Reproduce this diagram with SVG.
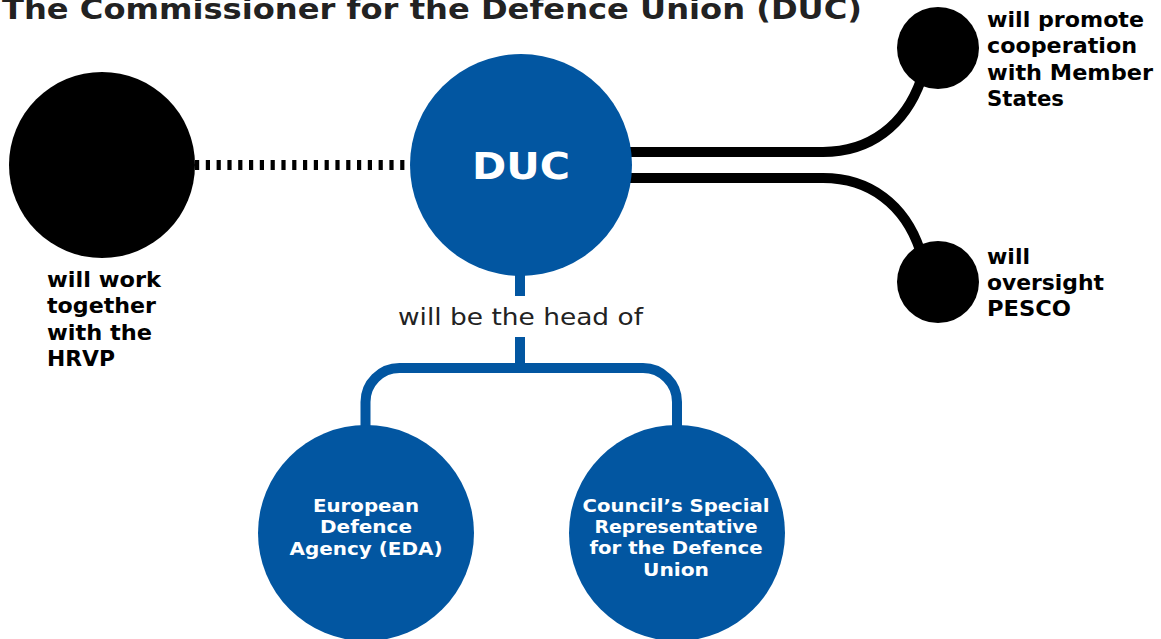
<svg xmlns="http://www.w3.org/2000/svg" width="1161" height="639" viewBox="0 0 1161 639">
  <style>
    .title { font-family: "DejaVu Sans", "Liberation Sans", sans-serif; font-weight: 700; font-size: 28px; fill: #222222; }
    .label { font-family: "DejaVu Sans", "Liberation Sans", sans-serif; font-weight: 700; font-size: 21px; fill: #000000; }
    .plain { font-family: "DejaVu Sans", "Liberation Sans", sans-serif; font-weight: 400; font-size: 23px; fill: #222222; }
    .inner { font-family: "DejaVu Sans", "Liberation Sans", sans-serif; font-weight: 700; font-size: 18px; fill: #ffffff; text-anchor: middle; }
    .big { font-family: "DejaVu Sans", "Liberation Sans", sans-serif; font-weight: 700; font-size: 38px; fill: #ffffff; text-anchor: middle; }
    .blue { fill: #0256a1; }
    .dot { fill: #000000; }
    .wire { fill: none; stroke: #000000; stroke-width: 10; }
    .tree { fill: none; stroke: #0256a1; stroke-width: 10; }
  </style>

  <text class="title" x="2" y="19" textLength="860" lengthAdjust="spacingAndGlyphs">The Commissioner for the Defence Union (DUC)</text>

  <!-- connectors -->
  <g id="connectors">
    <path class="wire" d="M195 165 H411" stroke-dasharray="4.2 6.6"/>
    <path class="wire" d="M620 152 H823 C870 152 905 125 921 80"/>
    <path class="wire" d="M620 178 H823 C870 178 905 205 920 250"/>
    <path class="tree" d="M520 268 V296"/>
    <path class="tree" d="M520 337 V368"/>
    <path class="tree" d="M365.5 432 V402 A34 34 0 0 1 399.5 368 H643 A34 34 0 0 1 677 402 V432"/>
  </g>

  <!-- nodes -->
  <g id="hrvp">
    <circle class="dot" cx="102" cy="165" r="93"/>
    <text class="label" x="47" y="287" textLength="114" lengthAdjust="spacingAndGlyphs">will work</text>
    <text class="label" x="47" y="313" textLength="109" lengthAdjust="spacingAndGlyphs">together</text>
    <text class="label" x="47" y="340" textLength="105" lengthAdjust="spacingAndGlyphs">with the</text>
    <text class="label" x="47" y="366" textLength="68" lengthAdjust="spacingAndGlyphs">HRVP</text>
  </g>

  <g id="duc">
    <circle class="blue" cx="521" cy="165" r="111"/>
    <text class="big" x="521" y="179" textLength="98" lengthAdjust="spacingAndGlyphs">DUC</text>
  </g>

  <g id="head-of">
    <text class="plain" x="398" y="325" textLength="245" lengthAdjust="spacingAndGlyphs">will be the head of</text>
  </g>

  <g id="member-states">
    <circle class="dot" cx="938" cy="48" r="41"/>
    <text class="label" x="987" y="27" textLength="157" lengthAdjust="spacingAndGlyphs">will promote</text>
    <text class="label" x="987" y="53" textLength="150" lengthAdjust="spacingAndGlyphs">cooperation</text>
    <text class="label" x="987" y="80" textLength="166" lengthAdjust="spacingAndGlyphs">with Member</text>
    <text class="label" x="987" y="106" textLength="77" lengthAdjust="spacingAndGlyphs">States</text>
  </g>

  <g id="pesco">
    <circle class="dot" cx="938" cy="282" r="41"/>
    <text class="label" x="987" y="264" textLength="43" lengthAdjust="spacingAndGlyphs">will</text>
    <text class="label" x="987" y="290" textLength="117" lengthAdjust="spacingAndGlyphs">oversight</text>
    <text class="label" x="987" y="316" textLength="84" lengthAdjust="spacingAndGlyphs">PESCO</text>
  </g>

  <g id="eda">
    <circle class="blue" cx="366" cy="533" r="108"/>
    <text class="inner" x="366" y="512" textLength="106" lengthAdjust="spacingAndGlyphs">European</text>
    <text class="inner" x="366" y="533" textLength="92" lengthAdjust="spacingAndGlyphs">Defence</text>
    <text class="inner" x="366" y="555" textLength="153" lengthAdjust="spacingAndGlyphs">Agency (EDA)</text>
  </g>

  <g id="special-representative">
    <circle class="blue" cx="677" cy="533" r="108"/>
    <text class="inner" x="676" y="512" textLength="187" lengthAdjust="spacingAndGlyphs">Council’s Special</text>
    <text class="inner" x="676" y="533" textLength="163" lengthAdjust="spacingAndGlyphs">Representative</text>
    <text class="inner" x="676" y="554" textLength="173" lengthAdjust="spacingAndGlyphs">for the Defence</text>
    <text class="inner" x="676" y="576" textLength="66" lengthAdjust="spacingAndGlyphs">Union</text>
  </g>
</svg>
